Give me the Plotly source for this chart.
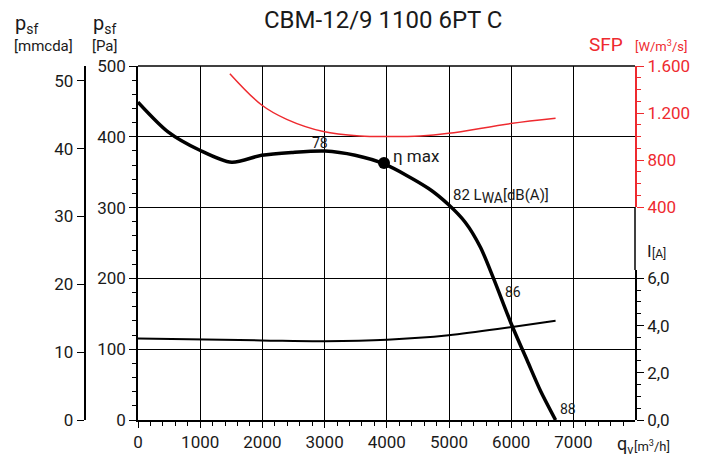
import plotly.graph_objects as go

# ---- data ----
p_x = [0, 483, 994, 1505, 1988, 2471, 3008, 3491, 3948, 4672, 4994, 5263, 5505, 5720, 6000, 6257, 6472, 6713]
p_y = [449, 407, 381, 364, 374, 378, 380, 374, 362, 327, 304, 279, 244, 199, 136, 84, 41, 0]

i_x = [0, 1988, 3008, 4002, 4994, 6015, 6713]
i_y = [3.45, 3.37, 3.34, 3.40, 3.59, 3.94, 4.20]

sfp_x = [1477, 1988, 2391, 2980, 3571, 4002, 4539, 4994, 5989, 6713]
sfp_y = [1535, 1268, 1146, 1042, 1004, 999, 1004, 1027, 1110, 1155]

eta_x = [3955]
eta_y = [363]

mm_range = [0, 52.18]

title = "CBM-12/9 1100 6PT C"

INK = "#1a1a1a"
RED = "#ee2a2f"
FONT = "Roboto"

# page body has an 8px margin: work in screen pixels and subtract it
OFF = 8
W, H = 707 - OFF, 457 - OFF

fig = go.Figure()
fig.add_trace(go.Scatter(x=p_x, y=p_y, mode="lines", line=dict(color="black", width=3.5, shape="spline", smoothing=0.8),
                         xaxis="x", yaxis="y", showlegend=False, hoverinfo="skip"))
fig.add_trace(go.Scatter(x=eta_x, y=eta_y, mode="markers", marker=dict(color="black", size=12),
                         xaxis="x", yaxis="y", showlegend=False, hoverinfo="skip"))
fig.add_trace(go.Scatter(x=i_x, y=i_y, mode="lines", line=dict(color="black", width=2, shape="spline"),
                         xaxis="x", yaxis="y4", showlegend=False, hoverinfo="skip"))
fig.add_trace(go.Scatter(x=sfp_x, y=sfp_y, mode="lines", line=dict(color=RED, width=1.5, shape="spline"),
                         xaxis="x", yaxis="y3", showlegend=False, hoverinfo="skip"))
# invisible trace so the mmcda axis is drawn
fig.add_trace(go.Scatter(x=[0], y=[0], mode="markers", marker=dict(opacity=0), xaxis="x", yaxis="y2",
                         showlegend=False, hoverinfo="skip"))

# screen-pixel geometry of the reference
S_LEFT, S_RIGHT, S_TOP, S_BOT = 138, 635, 66, 420
S_MM = 84.5
L = 80 - OFF
R = W - (S_RIGHT - OFF)
T = S_TOP - OFF
B = H - (S_BOT - OFF)
PW = W - L - R
PH = H - T - B
x0 = (S_LEFT - OFF - L) / PW
sfp_lo = (S_BOT - 207) / PH
i_hi = (S_BOT - 270) / PH
i_top = (419.3 - 270) / 23.5

fig.update_layout(
    width=W, height=H,
    margin=dict(l=L, r=R, t=T, b=B, autoexpand=False),
    paper_bgcolor="white", plot_bgcolor="rgba(0,0,0,0)",
    separators=",.",
    font=dict(family=FONT, color=INK, size=17),
    xaxis=dict(domain=[x0, 1], range=[0, 7990], tick0=0, dtick=1000, ticks="outside", ticklen=6,
               tickcolor="black", showline=True, linecolor="black", linewidth=1.5,
               showgrid=True, gridcolor="black", gridwidth=1, zeroline=False,
               minor=dict(dtick=200, tick0=0, ticks="outside", ticklen=4, tickcolor="black", showgrid=False),
               tickfont=dict(size=17), anchor="y"),
    yaxis=dict(domain=[0, 1], range=[0, 500], tick0=0, dtick=100, ticks="outside", ticklen=7,
               tickcolor="black", showline=True, linecolor="black", linewidth=1.5,
               showgrid=True, gridcolor="black", gridwidth=1, zeroline=False,
               minor=dict(dtick=20, tick0=0, ticks="outside", ticklen=4, tickcolor="black", showgrid=False),
               tickfont=dict(size=17), anchor="x"),
    yaxis2=dict(overlaying="y", anchor="free", position=(S_MM - OFF - L) / PW, side="left", range=mm_range,
                tick0=0, dtick=10, ticks="outside", ticklen=7, tickcolor="black",
                showline=True, linecolor="black", linewidth=1.5, showgrid=False, zeroline=False,
                tickfont=dict(size=17)),
    yaxis3=dict(domain=[sfp_lo, 1], anchor="x", side="right", range=[400, 1600],
                tick0=400, dtick=400, separatethousands=True, ticks="outside", ticklen=7, tickcolor=RED,
                showline=True, linecolor=RED, linewidth=2, showgrid=False, zeroline=False,
                minor=dict(dtick=100, tick0=0, ticks="outside", ticklen=4, tickcolor=RED, showgrid=False),
                tickfont=dict(size=17, color=RED)),
    yaxis4=dict(domain=[0, i_hi], anchor="x", side="right", range=[0, i_top],
                tick0=0, dtick=2, tickformat=".1f", ticks="outside", ticklen=7, tickcolor="black",
                showline=True, linecolor="black", linewidth=1.5, showgrid=False, zeroline=False,
                minor=dict(dtick=0.5, tick0=0, ticks="outside", ticklen=4, tickcolor="black", showgrid=False),
                tickfont=dict(size=17)),
)

fig.add_shape(type="line", xref="paper", yref="paper", x0=x0, x1=1, y0=1, y1=1,
              line=dict(color="black", width=1.5))
fig.add_shape(type="line", xref="paper", yref="paper", x0=1, x1=1, y0=i_hi, y1=sfp_lo,
              line=dict(color="black", width=1.5))

def px_ann(text, x, y, size, color=INK, xanchor="left", yanchor="middle"):
    # x, y are screen pixels of the reference
    fig.add_annotation(text=text, xref="paper", yref="paper",
                       x=(x - OFF - L) / PW, y=(S_BOT - y) / PH, xanchor=xanchor, yanchor=yanchor,
                       showarrow=False, borderpad=0, font=dict(size=size, color=color, family=FONT))

px_ann(title, 383, 20, 24, xanchor="center")
px_ann("p<sub>sf</sub>", 14, 24, 20)
px_ann("[mmcda]", 13, 46, 15)
px_ann("p<sub>sf</sub>", 92, 24, 20)
px_ann("[Pa]", 91, 46, 15)
px_ann("SFP", 588, 45, 19, color=RED)
px_ann("[W/m<sup>3</sup>/s]", 634, 46, 13, color=RED)
px_ann("I", 646, 251, 17)
px_ann("[A]", 651, 254, 12)
px_ann("q<sub>v</sub>", 616, 445, 18)
px_ann("[m<sup>3</sup>/h]", 633, 446, 13)

def data_ann(text, x, y, size, xanchor="center"):
    fig.add_annotation(text=text, x=x, y=y, xref="x", yref="y", xanchor=xanchor, yanchor="middle",
                       showarrow=False, borderpad=0, font=dict(size=size, color=INK, family=FONT))

data_ann("78", 2927, 391, 14)
data_ann("η max", 4087, 373, 17, xanchor="left")
data_ann("82 L<sub><span style='font-size:14px'>WA</span></sub>[dB(A)]", 5040, 317, 15, xanchor="left")
data_ann("86", 6036, 181, 14)
data_ann("88", 6906, 15, 14)

fig.write_html("out.html")
